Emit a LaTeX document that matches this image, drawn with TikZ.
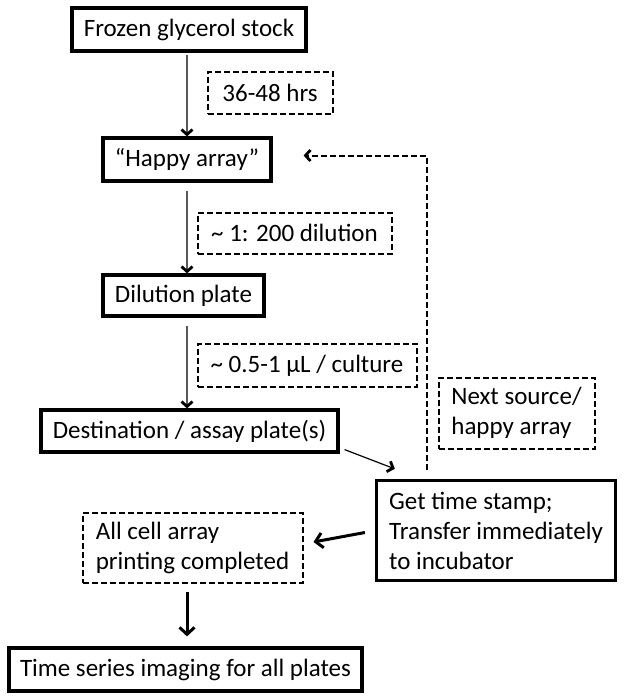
\documentclass[tikz,border=0pt]{standalone}
\usepackage{fontspec}
\setmainfont{Carlito}
\usetikzlibrary{arrows.meta,calc}
\begin{document}
\begin{tikzpicture}[x=1pt,y=-1pt,
  every node/.style={font=\fontsize{25}{30}\selectfont, inner sep=0pt, text=black},
  solidbox/.style={draw=black, line width=3.2pt, rectangle},
  dashbox/.style={draw=black, line width=2pt, dash pattern=on 6pt off 3pt, rectangle},
  thinarrow/.style={draw=black!65, line width=1.2pt, -{Straight Barb[length=5pt,width=11pt,line width=2.8pt,color=black]}},
  thickarrow/.style={draw=black, line width=3pt, -{Straight Barb[length=7pt,width=15pt,line width=3pt]}},
  dasharrow/.style={draw=black, line width=2pt, dash pattern=on 6pt off 3pt, -{Straight Barb[length=5pt,width=11pt,line width=2.8pt]}}
]
\useasboundingbox (0,0) rectangle (624,699);

\node[solidbox, minimum width=234pt, minimum height=43pt] (frozen) at (189,29.5) {Frozen glycerol stock};
\node[dashbox, minimum width=125pt, minimum height=42pt] (hrs) at (270,92.5) {36-48 hrs};
\node[solidbox, minimum width=168pt, minimum height=43pt] (happy) at (187,159.5) {“Happy array”};
\node[dashbox, minimum width=194pt, minimum height=41pt] (dil) at (294.5,233) {\textasciitilde{} 1: 200 dilution};
\node[solidbox, minimum width=161pt, minimum height=41pt] (dilution) at (183.5,295.5) {Dilution plate};
\node[dashbox, minimum width=219pt, minimum height=43pt] (ul) at (307,365.5) {\textasciitilde{} 0.5-1 µL / culture};
\node[solidbox, minimum width=297pt, minimum height=42pt] (dest) at (189.5,431) {Destination / assay plate(s)};
\node[dashbox, minimum width=156pt, minimum height=71pt, align=left] (next) at (516.5,413) {Next source/\\happy array};
\node[solidbox, minimum width=239pt, minimum height=100pt, align=left] (get) at (496,530.5) {Get time stamp;\\Transfer immediately\\to incubator};
\node[dashbox, minimum width=220pt, minimum height=70pt, align=left] (allcell) at (192.5,547.5) {All cell array\\printing completed};
\node[solidbox, minimum width=353pt, minimum height=43pt] (time) at (185.5,669.5) {Time series imaging for all plates};

% coordinates for connector ends
\coordinate (loopstart) at ($(get.north west)+(52,-9)$);
\coordinate (loopcorner) at (loopstart |- happy.center);
\coordinate (looptip) at ($(happy.east)+(31,-4)$);
\coordinate (d1) at ($(dest.south east)+(5,-4)$);
\coordinate (d2) at ($(get.north west)+(20,-10)$);
\coordinate (g1) at ($(get.west)+(-10,2)$);
\coordinate (g2) at ($(allcell.east)+(10,-5.5)$);

\draw[thinarrow, shorten <=2pt] (frozen.south -| happy.north) -- (happy.north);
\draw[thinarrow, shorten <=8pt] (happy.south) -- (happy.south |- dilution.north);
\draw[thinarrow, shorten <=8pt] (happy.south |- dilution.south) -- (happy.south |- dest.north);
\draw[thinarrow, draw=black] (d1) -- (d2);
\draw[dasharrow] (loopstart) -- (loopcorner |- looptip) -- (looptip);
\draw[thickarrow] (g1) -- (g2);
\draw[thickarrow, shorten <=8pt, shorten >=10pt] (allcell.south -| happy.south) -- (happy.south |- time.north);
\end{tikzpicture}
\end{document}
